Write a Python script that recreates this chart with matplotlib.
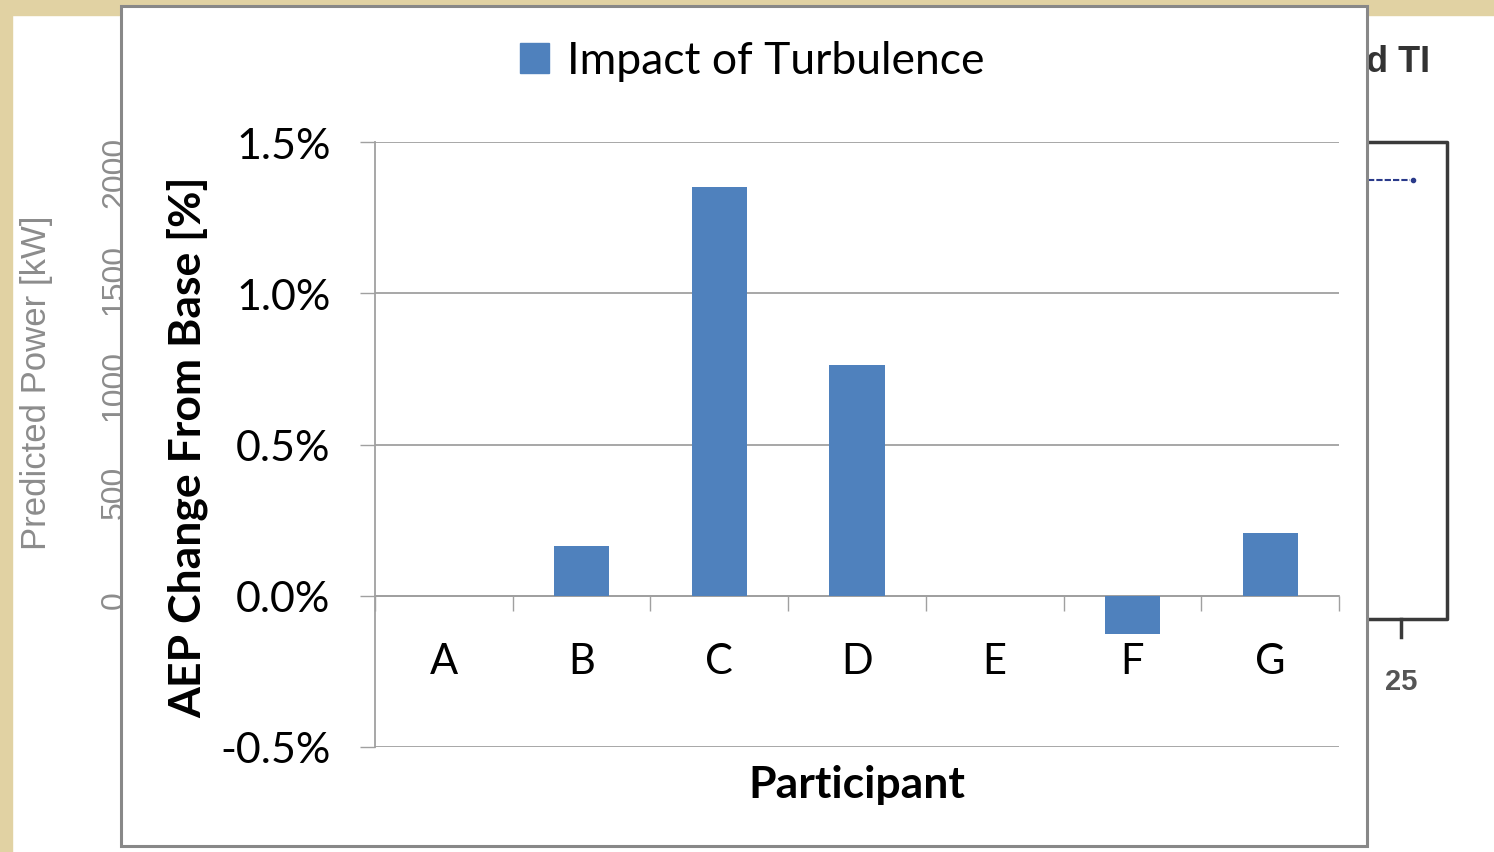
import numpy as np
import matplotlib.pyplot as plt
from matplotlib.patches import Rectangle, Patch
from matplotlib.lines import Line2D
from matplotlib.ticker import FuncFormatter, FixedLocator

plt.rcParams['font.family'] = ['Lato', 'DejaVu Sans']

# data (AEP change from base, in %)
participants = ['A', 'B', 'C', 'D', 'E', 'F', 'G']
aep_change = [0.0, 0.166, 1.35, 0.762, 0.0, -0.128, 0.207]
series_name = 'Impact of Turbulence'

# ghost chart behind the screenshot
ghost_ticks = ['0', '500', '1000', '1500', '2000']
ghost_tick_y = [600, 492, 386, 280, 172]

W, H = 1494, 853
fig = plt.figure(figsize=(W / 100, H / 100), dpi=100)
fig.patch.set_facecolor('white')

def fx(px):
  return px / W

def fy(py):
  return 1 - py / H

tan = '#e1d2a3'
fig.patches.append(Rectangle((0, 0), fx(12), 1, transform=fig.transFigure, color=tan, zorder=0.1))
fig.patches.append(Rectangle((0, fy(16)), 1, 1 - fy(16), transform=fig.transFigure, color=tan, zorder=0.1))

# blurred background chart bits
ghost = '#8c8c8c'
narrow = ['Liberation Sans Narrow', 'Liberation Sans', 'DejaVu Sans']
fig.text(fx(37), fy(383), 'Predicted Power [kW]', rotation=90, ha='center', va='center',
         fontsize=25, color=ghost, family=narrow, zorder=0.5)
for lab, yy in zip(ghost_ticks, ghost_tick_y):
  fig.text(fx(115), fy(yy), lab, rotation=90, ha='center', va='center',
           fontsize=23, color=ghost, family=narrow, zorder=0.5)
fig.text(fx(1430), fy(62), 'd TI', ha='right', va='center', fontsize=26, fontweight='bold',
         color='#333333', family=['Liberation Sans', 'DejaVu Sans'], zorder=0.5)
fig.lines.append(Line2D([fx(1300), fx(1447), fx(1447), fx(1300)], [fy(143), fy(143), fy(620), fy(620)],
                        transform=fig.transFigure, color='#3a3a3a', lw=2.5, zorder=0.5))
fig.lines.append(Line2D([fx(1401), fx(1401)], [fy(620), fy(638)], transform=fig.transFigure,
                        color='#3a3a3a', lw=2.5, zorder=0.5))
fig.lines.append(Line2D([fx(1368), fx(1410)], [fy(181), fy(181)], transform=fig.transFigure,
                        color='#2a3a8a', lw=1.5, ls=(0, (3, 1)), zorder=0.5))
fig.lines.append(Line2D([fx(1413)], [fy(181)], transform=fig.transFigure, marker='o', ms=3,
                        color='#2a3a8a', zorder=0.5))
fig.text(fx(1401), fy(682), '25', ha='center', va='center', fontsize=21, color='#555555',
         fontweight='bold', family=['Liberation Sans', 'DejaVu Sans'], zorder=0.5)

# the overlaid chart box
fig.patches.append(Rectangle((fx(121), fy(847)), fx(1367) - fx(121), fy(7) - fy(847),
                             transform=fig.transFigure, facecolor='white', edgecolor='#888888',
                             lw=2.2, zorder=0.8))

ax = fig.add_axes([fx(375), fy(748), fx(1339) - fx(375), fy(143) - fy(748)])
ax.set_zorder(1)
ax.patch.set_visible(False)

x = np.arange(len(participants))
bar_color = '#4f81bd'
ax.bar(x, aep_change, width=0.4, color=bar_color, zorder=3)

ax.set_xlim(-0.5, len(participants) - 0.5)
ax.set_ylim(-0.5, 1.5)
ax.set_yticks([-0.5, 0.0, 0.5, 1.0, 1.5])
ax.yaxis.set_major_formatter(FuncFormatter(lambda v, p: '%.1f%%' % v))
grid_c = '#a0a0a0'
ax.yaxis.grid(True, color=grid_c, lw=1.3, zorder=0)
ax.tick_params(axis='y', length=11, width=1.0, color=grid_c, pad=21, labelsize=31)

for s in ['top', 'right']:
  ax.spines[s].set_visible(False)
ax.spines['left'].set_color(grid_c)
ax.spines['left'].set_linewidth(1.3)
ax.spines['bottom'].set_position(('data', 0))
ax.spines['bottom'].set_color(grid_c)
ax.spines['bottom'].set_linewidth(1.3)

ax.set_xticks(x)
ax.set_xticklabels(participants)
ax.xaxis.set_minor_locator(FixedLocator(np.arange(len(participants) + 1) - 0.5))
ax.tick_params(axis='x', which='major', length=0, pad=33, labelsize=30)
ax.tick_params(axis='x', which='minor', length=11, width=1.0, color=grid_c)

ax.set_ylabel('AEP Change From Base [%]', fontsize=32, fontweight='bold', va='center')
ax.yaxis.set_label_coords(-0.194, 0.497)
ax.set_xlabel('Participant', fontsize=32, fontweight='bold', va='center')
ax.xaxis.set_label_coords(0.5, -0.061)

leg = ax.legend(handles=[Patch(color=bar_color, label=series_name)], loc='center',
                bbox_to_anchor=(fx(752), fy(62)), bbox_transform=fig.transFigure,
                frameon=False, fontsize=32, handlelength=0.65, handleheight=0.65, handletextpad=0.4)

fig.savefig('out.png', dpi=100)
